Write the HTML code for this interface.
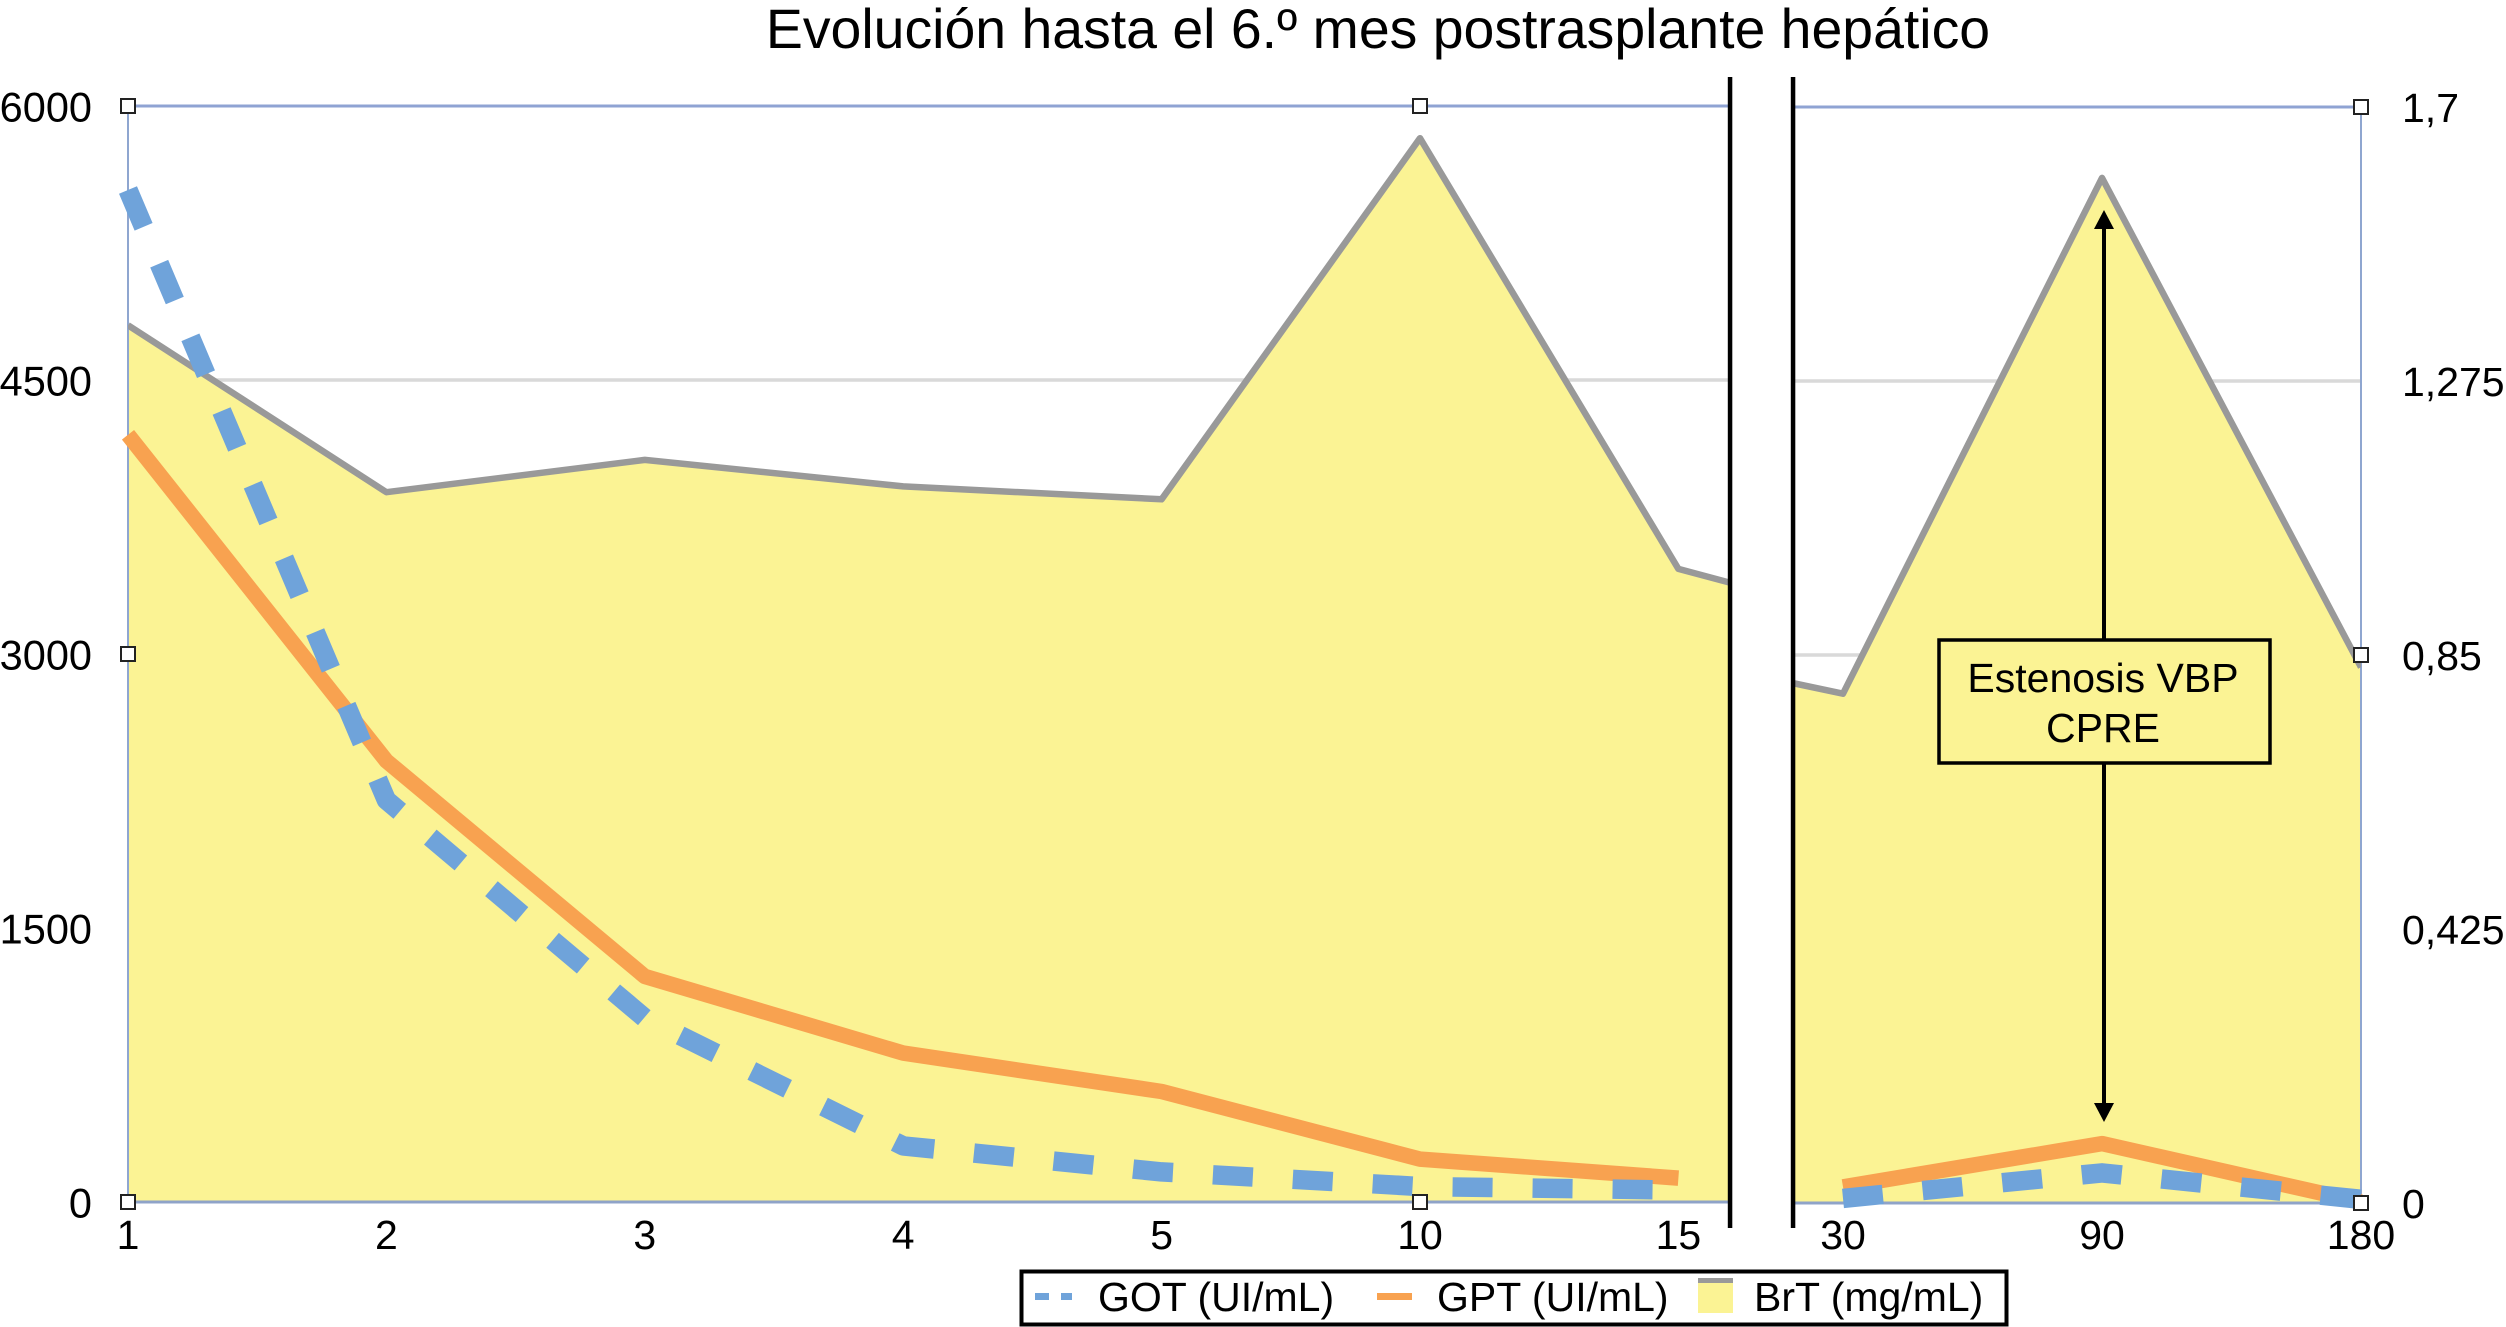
<!DOCTYPE html>
<html lang="es">
<head>
<meta charset="utf-8">
<title>Evolución hasta el 6.º mes postrasplante hepático</title>
<style>
html,body{margin:0;padding:0;background:#fff;width:2506px;height:1327px;overflow:hidden}
svg{display:block}
text{font-family:"Liberation Sans",Arial,sans-serif;fill:#000}
</style>
</head>
<body>
<svg id="chart" xmlns="http://www.w3.org/2000/svg" width="2506" height="1327" viewBox="0 0 2506 1327">
  <defs>
    <clipPath id="clip-left"><rect x="128" y="0" width="1602" height="1327"/></clipPath>
    <clipPath id="clip-right"><rect x="1793" y="0" width="568" height="1327"/></clipPath>
  </defs>
  <rect width="2506" height="1327" fill="#fff"/>
  <text x="1378" y="48" font-size="55.4" text-anchor="middle">Evolución hasta el 6.º mes postrasplante hepático</text>
  <g id="grid"></g>
  <g id="areas"></g>
  <g id="frame"></g>
  <g id="brt-lines"></g>
  <g id="gpt-lines"></g>
  <g id="got-lines"></g>
  <g id="handles"></g>
  <g id="break-mark">
    <rect x="1730" y="70" width="63" height="1160" fill="#fff"/>
    <rect x="1727.8" y="77" width="4.5" height="1151" fill="#000"/>
    <rect x="1790.8" y="77" width="4.5" height="1151" fill="#000"/>
  </g>
  <g id="y-left-labels"></g>
  <g id="y-right-labels"></g>
  <g id="x-labels"></g>
  <g>
    <line x1="2104" y1="639" x2="2104" y2="226" stroke="#000" stroke-width="4"/>
    <polygon points="2104,210 2114,229 2094,229" fill="#000"/>
    <line x1="2104" y1="763" x2="2104" y2="1105" stroke="#000" stroke-width="4"/>
    <polygon points="2104,1122 2114,1103 2094,1103" fill="#000"/>
    <rect x="1939" y="640" width="331" height="123" fill="#fbf394" stroke="#000" stroke-width="3.5"/>
    <text x="2103" y="692" font-size="41" text-anchor="middle">Estenosis VBP</text>
    <text x="2103" y="742" font-size="41" text-anchor="middle">CPRE</text>
  </g>
  <g>
    <rect x="1021.5" y="1271.5" width="985" height="53" fill="#fff" stroke="#000" stroke-width="4"/>
    <rect x="1035" y="1293" width="14" height="7" fill="#6fa3da"/>
    <rect x="1061" y="1293" width="11" height="7" fill="#6fa3da"/>
    <text x="1098" y="1311" font-size="41">GOT (UI/mL)</text>
    <rect x="1377" y="1293" width="35" height="7" fill="#f8a250"/>
    <text x="1437" y="1311" font-size="41">GPT (UI/mL)</text>
    <rect x="1698" y="1278" width="35" height="35" fill="#fbf394"/>
    <rect x="1698" y="1278" width="35" height="5" fill="#999"/>
    <text x="1754" y="1311" font-size="41">BrT (mg/mL)</text>
  </g>
</svg>
<script>
const categories = ['1', '2', '3', '4', '5', '10', '15', '', '30', '90', '180'];
const gotValues = [5540, 2200, 1007, 307, 165, 85, 65, null, 25, 165, 20];
const gptValues = [4200, 2415, 1235, 815, 605, 235, 131, null, 88, 325, 5];
const brtValues = [1.36, 1.101, 1.151, 1.11, 1.09, 1.65, 0.982, 0.875, 0.79, 1.59, 0.831];
const leftTickValues = [0, 1500, 3000, 4500, 6000];
const leftTickLabels = ['0', '1500', '3000', '4500', '6000'];
const rightTickValues = [0, 0.425, 0.85, 1.275, 1.7];
const rightTickLabels = ['0', '0,425', '0,85', '1,275', '1,7'];

const NS = 'http://www.w3.org/2000/svg';
const LEFT_MAX = 6000, RIGHT_MAX = 1.7;
const PLOT_TOP = 106, PLOT_BOTTOM = 1202, PLOT_LEFT = 128, PLOT_RIGHT = 2361;
const BREAK_INDEX = 7;

function isLeftPanel(panel) { return panel === 'left'; }
function xPos(i, panel) {
  return isLeftPanel(panel) ? PLOT_LEFT + 258.4 * i : 1843 + 259 * (i - 8);
}
function panelShift(panel) { return isLeftPanel(panel) ? 0 : 1; }
function yLeftAxis(v, panel) {
  return PLOT_BOTTOM + panelShift(panel) - (v / LEFT_MAX) * (PLOT_BOTTOM - PLOT_TOP);
}
function yRightAxis(v, panel) {
  return PLOT_BOTTOM + panelShift(panel) - (v / RIGHT_MAX) * (PLOT_BOTTOM - PLOT_TOP);
}
function make(tag, parentId) {
  const el = document.createElementNS(NS, tag);
  document.getElementById(parentId).appendChild(el);
  return el;
}
function setAll(el, attrs) {
  Object.keys(attrs).forEach(function (k) { el.setAttribute(k, attrs[k]); });
}
function pointsFor(values, panel, yFn) {
  const pts = [];
  values.forEach(function (v, i) {
    if (v === null) return;
    if (isLeftPanel(panel) ? i > BREAK_INDEX : i < BREAK_INDEX) return;
    pts.push([xPos(i, panel), yFn(v, panel)]);
  });
  return pts;
}
function ptsString(pts) {
  return pts.map(function (p) { return p[0].toFixed(1) + ',' + p[1].toFixed(1); }).join(' ');
}

/* gridlines */
leftTickValues.forEach(function (v) {
  if (v === 0 || v === LEFT_MAX) return;
  ['left', 'right'].forEach(function (panel) {
    const ln = make('line', 'grid');
    
    
    const y = yLeftAxis(v, panel);
    setAll(ln, {
      x1: isLeftPanel(panel) ? PLOT_LEFT : 1793,
      x2: isLeftPanel(panel) ? 1730 : PLOT_RIGHT,
      y1: y, y2: y, stroke: '#d9d9d9', 'stroke-width': 3.5
    });
  });
});

/* BrT area and line */
['left', 'right'].forEach(function (panel) {
  const pts = pointsFor(brtValues, panel, yRightAxis);
  const base = PLOT_BOTTOM + panelShift(panel);
  const poly = make('polygon', 'areas');
  
  
  const closed = [[pts[0][0], base]].concat(pts, [[pts[pts.length - 1][0], base]]);
  setAll(poly, { points: ptsString(closed), fill: '#fbf394', 'clip-path': 'url(#clip-' + panel + ')' });

  const ln = make('polyline', 'brt-lines');
  
  
  setAll(ln, {
    points: ptsString(pts), fill: 'none', stroke: '#999', 'stroke-width': 6.5,
    'stroke-linejoin': 'round', 'clip-path': 'url(#clip-' + panel + ')'
  });
});

/* frame */
['left', 'right'].forEach(function (panel) {
  const x1 = isLeftPanel(panel) ? PLOT_LEFT : 1793;
  const x2 = isLeftPanel(panel) ? 1730 : PLOT_RIGHT;
  const top = make('line', 'frame');
  
  
  setAll(top, { x1: x1, x2: x2, y1: PLOT_TOP + panelShift(panel), y2: PLOT_TOP + panelShift(panel), stroke: '#8fa3d3', 'stroke-width': 3 });
  const bot = make('line', 'frame');
  
  
  setAll(bot, { x1: x1, x2: x2, y1: PLOT_BOTTOM + panelShift(panel), y2: PLOT_BOTTOM + panelShift(panel), stroke: '#8fa3c8', 'stroke-width': 3 });
});
const leftEdge = make('line', 'frame');


setAll(leftEdge, { x1: PLOT_LEFT, x2: PLOT_LEFT, y1: PLOT_TOP, y2: PLOT_BOTTOM, stroke: '#8fa6d0', 'stroke-width': 2 });
const rightEdge = make('line', 'frame');


setAll(rightEdge, { x1: PLOT_RIGHT, x2: PLOT_RIGHT, y1: PLOT_TOP, y2: PLOT_BOTTOM, stroke: '#8fa6d0', 'stroke-width': 2 });

/* GPT and GOT lines */
['left', 'right'].forEach(function (panel) {
  const gpt = make('polyline', 'gpt-lines');
  
  
  setAll(gpt, {
    points: ptsString(pointsFor(gptValues, panel, yLeftAxis)),
    fill: 'none', stroke: '#f8a250', 'stroke-width': 15.5, 'stroke-linejoin': 'round'
  });
  const got = make('polyline', 'got-lines');
  
  
  setAll(got, {
    points: ptsString(pointsFor(gotValues, panel, yLeftAxis)),
    fill: 'none', stroke: '#6fa3da', 'stroke-width': 19.5, 'stroke-dasharray': '40 40', 'stroke-linejoin': 'round'
  });
});

/* selection handles sit on the frame corners and midpoints */
[[PLOT_LEFT, PLOT_TOP], [1420, PLOT_TOP], [PLOT_RIGHT, PLOT_TOP + 1],
 [PLOT_LEFT, 654], [PLOT_RIGHT, 655],
 [PLOT_LEFT, PLOT_BOTTOM], [1420, PLOT_BOTTOM], [PLOT_RIGHT, PLOT_BOTTOM + 1]].forEach(function (h) {
  const r = make('rect', 'handles');
  
  
  setAll(r, { x: h[0] - 7, y: h[1] - 7, width: 14, height: 14, fill: '#fff', stroke: '#222', 'stroke-width': 2 });
});

/* axis labels */
leftTickValues.forEach(function (v, i) {
  const t = make('text', 'y-left-labels');
  
  
  setAll(t, { x: 92, y: yLeftAxis(v, 'left') + 15.5, 'font-size': 41.5, 'text-anchor': 'end' });
  t.textContent = leftTickLabels[i];
});
rightTickValues.forEach(function (v, i) {
  const t = make('text', 'y-right-labels');
  
  
  setAll(t, { x: 2402, y: yRightAxis(v, 'right') + 15, 'font-size': 41 });
  t.textContent = rightTickLabels[i];
});
categories.forEach(function (c, i) {
  if (c === '') return;
  const panel = i < BREAK_INDEX ? 'left' : 'right';
  const t = make('text', 'x-labels');
  
  
  setAll(t, { x: xPos(i, panel), y: 1249, 'font-size': 41, 'text-anchor': 'middle' });
  t.textContent = c;
});
</script>
</body>
</html>
